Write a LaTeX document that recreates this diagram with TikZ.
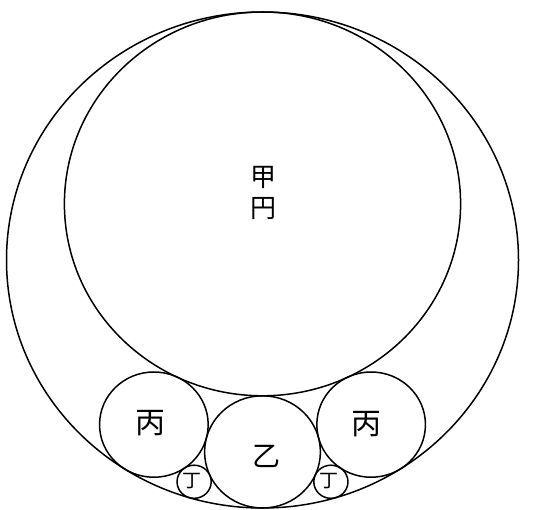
\documentclass[tikz,border=0pt]{standalone}
\usepackage{fontspec}
\newfontfamily\jp{Noto Sans CJK JP}
\begin{document}
\begin{tikzpicture}[x=1pt,y=1pt,
  ring/.style={draw=black,line width=1.5pt},
  lbl/.style={inner sep=0pt,font=\jp}]
\useasboundingbox (0,0) rectangle (538,-510);
\begin{scope}[shift={(262.5,-260)},x=256pt,y=248pt]
  \draw[ring] (0,0) circle [radius=1];
  \draw[ring] (0,0.2262) circle [radius=0.7738];
  \draw[ring] (0,-0.7738) circle [radius=0.2262];
  \draw[ring] (-0.42436,-0.66378) circle [radius=0.21217];
  \draw[ring] (0.42436,-0.66378) circle [radius=0.21217];
  \draw[ring] (-0.2671,-0.8942) circle [radius=0.066774];
  \draw[ring] (0.2671,-0.8942) circle [radius=0.066774];
\end{scope}
\node[lbl,font=\jp\fontsize{26}{31}\selectfont,align=center] (kou) at (263,-193) {甲\\円};
\node[lbl,font=\jp\fontsize{30}{30}\selectfont] (heiL) at (150,-423) {丙};
\node[lbl,font=\jp\fontsize{30}{30}\selectfont] (heiR) at (366,-424) {丙};
\node[lbl,font=\jp\fontsize{28}{28}\selectfont] (otsu) at (266,-456) {乙};
\node[lbl,font=\jp\fontsize{19}{19}\selectfont] (teiL) at (192,-481) {丁};
\node[lbl,font=\jp\fontsize{19}{19}\selectfont] (teiR) at (329,-481) {丁};
\end{tikzpicture}
\end{document}
